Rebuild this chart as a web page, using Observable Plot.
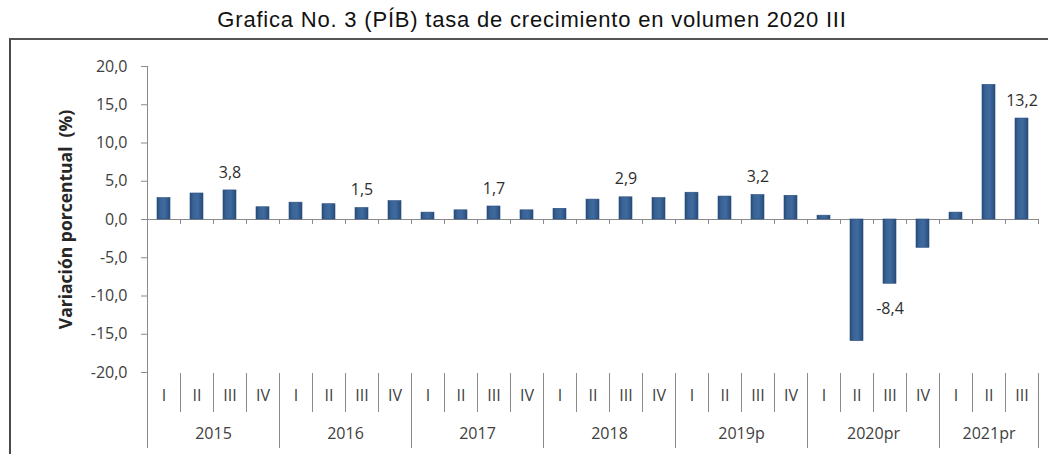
<!DOCTYPE html>
<html><head><meta charset="utf-8">
<script src="https://cdn.jsdelivr.net/npm/d3@7"></script>
<script src="https://cdn.jsdelivr.net/npm/@observablehq/plot@0.6"></script>
<style>
body{margin:0;width:1048px;height:454px;overflow:hidden;background:#fff;position:relative}
#title{position:absolute;left:0;top:7px;width:1064px;text-align:center;font:22px "Liberation Sans",Arial,sans-serif;letter-spacing:0.8px;color:#111}
#frame{position:absolute;left:9px;top:38px;width:1100px;height:500px;border-left:2px solid #4a4a4a;border-top:2px solid #555;box-sizing:border-box}
#chart{position:absolute;left:0;top:40px}
</style></head><body>
<div id="title">Grafica No. 3 (PÍB) tasa de crecimiento en volumen 2020 III</div>
<div id="frame"></div>
<div id="chart"></div>
<script>
const years = ["2015", "2016", "2017", "2018", "2019p", "2020pr", "2021pr"];
const quartersPerYear = [4, 4, 4, 4, 4, 4, 3];
const quarterNames = ["I", "II", "III", "IV"];
const growth = [
  2.8, 3.4, 3.8, 1.6,
  2.2, 2.0, 1.5, 2.4,
  0.9, 1.2, 1.7, 1.2,
  1.4, 2.6, 2.9, 2.8,
  3.5, 3.0, 3.2, 3.1,
  0.5, -15.9, -8.4, -3.7,
  0.9, 17.6, 13.2
];
const labeledQuarter = "III";
const yTicks = [-20, -15, -10, -5, 0, 5, 10, 15, 20];
const yLabel = "Variación porcentual  (%)";

const rows = [];
let k = 0;
years.forEach((y, i) => {
  for (let q = 0; q < quartersPerYear[i]; q++) {
    rows.push({key: `${y} ${quarterNames[q]}`, year: y, q: quarterNames[q], v: growth[k++]});
  }
});
const keys = rows.map(d => d.key);
const W = 1048, H = 414, ML = 147, MR = 10, MT = 26, MB = 82;
const step = (W - ML - MR) / rows.length;
const fmt = d => d.toFixed(1).replace(".", ",");
const firstOfYear = rows.filter(d => d.q === "I");
const innerQ = rows.filter(d => d.q !== "I");
const labeled = rows.filter(d => d.q === labeledQuarter);
const axisColor = "#8a8a8a";

const defs = () => {
  const s = d3.create("svg:defs");
  const g = s.append("linearGradient").attr("id", "barGrad").attr("x1", 0).attr("x2", 1).attr("y1", 0).attr("y2", 0);
  [[0, "#274b7b"], [0.25, "#3a6496"], [0.6, "#3f6a9d"], [1, "#284c7c"]].forEach(([o, c]) =>
    g.append("stop").attr("offset", o).attr("stop-color", c));
  return s.node();
};

const plot = Plot.plot({
  width: W, height: H,
  marginLeft: ML, marginRight: MR, marginTop: MT, marginBottom: MB,
  style: {fontFamily: "'Open Sans', sans-serif", fontSize: "16px", color: "#404040", background: "transparent", overflow: "visible"},
  x: {domain: keys, axis: null, paddingInner: 0.6, paddingOuter: 0.3},
  y: {domain: [-20, 20], axis: null},
  marks: [
    defs,
    Plot.ruleY([0], {stroke: axisColor}),
    Plot.ruleX(keys, {x: d => d, y1: 0, y2: 0, dx: -step / 2, insetBottom: -5, stroke: axisColor}),
    Plot.ruleX([keys[keys.length - 1]], {x: d => d, y1: 0, y2: 0, dx: step / 2, insetBottom: -5, stroke: axisColor}),
    Plot.barY(rows, {x: "key", y: "v", fill: "url(#barGrad)", stroke: "#2a4d7c", strokeWidth: 0.6}),
    Plot.ruleX([keys[0]], {x: d => d, dx: -step / 2, insetBottom: -76, stroke: axisColor}),
    Plot.ruleX([keys[keys.length - 1]], {x: d => d, dx: step / 2, insetTop: 307, insetBottom: -76, stroke: axisColor}),
    Plot.ruleX(innerQ, {x: "key", dx: -step / 2, insetTop: 307, insetBottom: -40, stroke: axisColor}),
    Plot.ruleX(firstOfYear.slice(1), {x: "key", dx: -step / 2, insetTop: 307, insetBottom: -76, stroke: axisColor}),
    Plot.text(rows, {x: "key", text: "q", frameAnchor: "bottom", dy: 28, fill: "#404040"}),
    ...years.map((y, i) => {
      const nq = quartersPerYear[i];
      return Plot.text(rows.filter(r => r.year === y && r.q === "II"),
        {x: "key", text: "year", frameAnchor: "bottom", dy: 66, dx: ((nq - 1) / 2 - 1) * step, fill: "#404040"});
    }),
    Plot.text(labeled.filter(d => d.v >= 0), {x: "key", y: "v", text: d => fmt(d.v), dy: -18, fill: "#2e2e2e"}),
    Plot.text(labeled.filter(d => d.v < 0), {x: "key", y: "v", text: d => fmt(d.v), dy: 25, fill: "#2e2e2e"}),
    Plot.axisY(yTicks, {tickSize: 6, tickPadding: 14, tickFormat: fmt, stroke: axisColor, fill: "#404040", label: null}),
    Plot.text([yLabel], {text: d => d, frameAnchor: "left", textAnchor: "middle", rotate: -90, dx: 66 - ML, fontWeight: "bold", fontSize: 17.5, fill: "#262626"})
  ]
});
document.getElementById("chart").append(plot);
</script>
</body></html>
